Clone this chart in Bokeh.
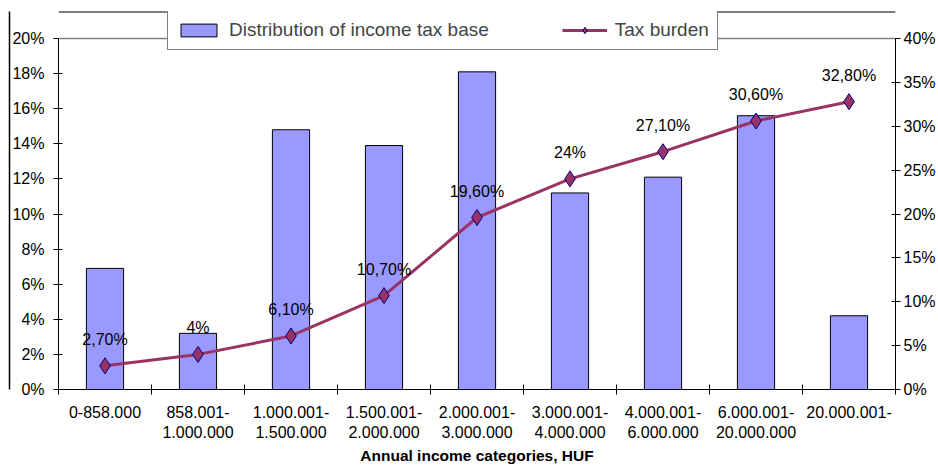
from bokeh.plotting import figure
from bokeh.models import (Range1d, LinearAxis, FixedTicker, Legend, LegendItem,
                          ColumnDataSource, Span)
from bokeh.core.properties import value
from bokeh.embed import file_html
from bokeh.resources import INLINE

categories = ["0-858.000", "858.001-\n1.000.000", "1.000.001-\n1.500.000",
              "1.500.001-\n2.000.000", "2.000.001-\n3.000.000", "3.000.001-\n4.000.000",
              "4.000.001-\n6.000.000", "6.000.001-\n20.000.000", "20.000.001-"]
base_share = [6.9, 3.2, 14.8, 13.9, 18.1, 11.2, 12.1, 15.6, 4.2]
tax_burden = [2.7, 4.0, 6.1, 10.7, 19.6, 24.0, 27.1, 30.6, 32.8]
burden_labels = ["2,70%", "4%", "6,10%", "10,70%", "19,60%", "24%", "27,10%", "30,60%", "32,80%"]
left_ticks = [0, 2, 4, 6, 8, 10, 12, 14, 16, 18, 20]
right_ticks = [0, 5, 10, 15, 20, 25, 30, 35, 40]

FONT = "Liberation Sans"
n = len(categories)
xs = [i + 0.5 for i in range(n)]
src = ColumnDataSource(dict(x=xs, share=base_share, burden=tax_burden, lab=burden_labels))

# frame spans from the chart's top edge; axes are bounded to 0..20 / 0..40
headroom = 378 / 351
p = figure(width=938, height=468, output_backend="svg", toolbar_location=None,
           x_range=Range1d(0, n), y_range=Range1d(0, 20 * headroom),
           min_border_left=58, min_border_right=38, min_border_top=11, min_border_bottom=79,
           background_fill_color="white", border_fill_color="white")
p.outline_line_color = None
p.grid.visible = False
p.extra_y_ranges = {"right": Range1d(0, 40 * headroom)}

bars = p.vbar(x="x", top="share", width=0.4, source=src, fill_color="#9999FF",
              line_color="black", line_width=1)
line = p.line(x="x", y="burden", source=src, y_range_name="right",
              line_color="#993366", line_width=3)
marks = p.scatter(x="x", y="burden", source=src, y_range_name="right", marker="diamond",
                  size=16, fill_color="#993366", line_color="#000080", line_width=1)
p.text(x="x", y="burden", text="lab", source=src, y_range_name="right",
       text_align="center", text_baseline="bottom", y_offset=-18,
       text_font=value(FONT), text_font_size="16px", text_color="black")

p.add_layout(Span(location=20, dimension="width", line_color="#808080", line_width=1.5))
p.add_layout(Span(location=20 * headroom, dimension="width", line_color="black", line_width=2))

# left axis
ya = p.yaxis[0]
ya.ticker = FixedTicker(ticks=left_ticks, minor_ticks=[])
ya.major_label_overrides = {t: f"{t}%" for t in left_ticks}
ya.bounds = (0, 20)
ya.major_label_standoff = 9
# right axis
ra = LinearAxis(y_range_name="right", ticker=FixedTicker(ticks=right_ticks, minor_ticks=[]))
ra.major_label_overrides = {t: f"{t}%" for t in right_ticks}
ra.bounds = (0, 40)
ra.major_label_standoff = 3
p.add_layout(ra, "right")
for ax in (ya, ra):
    ax.axis_line_color = "black"
    ax.major_tick_line_color = "black"
    ax.major_tick_in = 4
    ax.major_tick_out = 5
    ax.minor_tick_line_color = None
    ax.major_label_text_font = FONT
    ax.major_label_text_font_size = "16px"
    ax.major_label_text_color = "black"

# outer chart border on the left (bare axis line)
edge = LinearAxis(ticker=FixedTicker(ticks=[], minor_ticks=[]), axis_line_color="black",
                  axis_line_width=1.5, major_tick_line_color=None, minor_tick_line_color=None,
                  major_label_text_font_size="0px")
p.add_layout(edge, "left")

xa = p.xaxis[0]
xa.ticker = FixedTicker(ticks=xs, minor_ticks=list(range(n + 1)))
xa.major_label_overrides = {x: c for x, c in zip(xs, categories)}
xa.major_tick_line_color = None
xa.minor_tick_line_color = "black"
xa.minor_tick_in = 5
xa.minor_tick_out = 5
xa.axis_line_color = "black"
xa.major_label_text_font = FONT
xa.major_label_text_font_size = "16px"
xa.major_label_text_color = "black"
xa.major_label_standoff = 8
xa.axis_label = "Annual income categories, HUF"
xa.axis_label_text_font = FONT
xa.axis_label_text_font_style = "bold"
xa.axis_label_text_font_size = "15.5px"
xa.axis_label_text_color = "black"
xa.axis_label_standoff = 3

legend = Legend(items=[LegendItem(label="Distribution of income tax base", renderers=[bars]),
                       LegendItem(label="Tax burden", renderers=[line, marks])],
                orientation="horizontal", location=(109, 339),
                border_line_color="black", border_line_width=1,
                background_fill_color="white", background_fill_alpha=1,
                label_text_font=FONT, label_text_font_size="19px",
                glyph_width=45, glyph_height=16, label_standoff=8, spacing=73,
                padding=8)
p.add_layout(legend, "center")

open("out.html", "w").write(file_html(p, INLINE))
